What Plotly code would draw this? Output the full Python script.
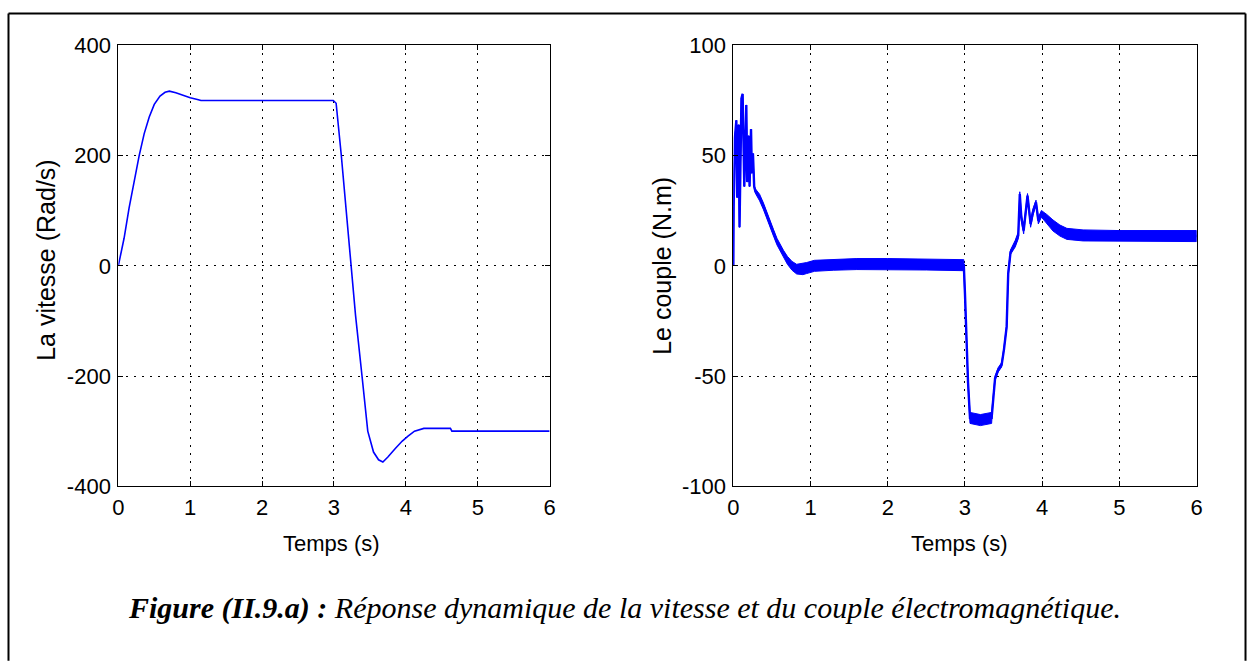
import plotly.graph_objects as go

W, H = 1253, 661
# measured mapping of the rendered page onto the returned picture:
#   x_pic = 4.5 + 0.992 * x_page ; y_pic = 10.4 + 0.967 * y_page
# layout targets are given in reference-picture pixels and converted here.
def px(x):
    return ((x - 4.5) / 0.992) / W

def py(y):
    return 1 - ((y - 10.4) / 0.967) / H

# ---------------- data ----------------
speed_t = [0, 0.08, 0.15, 0.22, 0.29, 0.36, 0.43, 0.5, 0.58, 0.65, 0.71, 0.8, 0.9, 1.0, 1.1, 1.15,
           2.99, 3.03, 3.1, 3.2, 3.3, 3.39, 3.47, 3.55, 3.62, 3.68, 3.75, 3.85, 3.95, 4.03, 4.12,
           4.25, 4.62, 4.64, 6.0]
speed_v = [0, 50, 105, 155, 200, 240, 270, 293, 308, 315, 317, 314, 309, 305, 302, 300,
           300, 295, 203, 50, -90, -200, -300, -338, -352, -356, -347, -332, -318, -309, -300,
           -295, -295, -300, -300]

torque_t = [0, 0.004, 0.02, 0.039, 0.05, 0.069, 0.08, 0.09, 0.105, 0.12, 0.142, 0.168, 0.18,
            0.198, 0.21, 0.229, 0.24, 0.254, 0.27, 0.284, 0.306, 0.34, 0.39, 0.43, 0.478,
            0.52, 0.565, 0.61, 0.65, 0.7, 0.76, 0.82, 0.9, 0.95, 1.05, 1.3, 1.6, 2.0, 2.5,
            2.985, 3.0, 3.02, 3.04, 3.065, 3.2, 3.345, 3.366, 3.39, 3.43, 3.475, 3.505,
            3.54, 3.56, 3.59, 3.65, 3.69, 3.71, 3.73, 3.76, 3.81, 3.85, 3.88, 3.92, 3.95,
            3.99, 4.06, 4.14, 4.23, 4.32, 4.53, 5.0, 5.5, 6.0]
torque_v = [0, 27, 58, 66, 31, 64, 17.5, 50, 76, 78, 36, 73, 38, 59, 36, 62, 42, 51, 36,
            34, 33, 31, 27, 23, 19, 15, 11, 8, 5.5, 2.5, 0, -1.5, -1.5, -1, 0, 0.5, 0.8,
            0.8, 0.6, 0.3, -12.6, -36.7, -53.2, -69, -70, -69, -59.2, -51, -47.2,
            -44.9, -38, -27.6, -3.5, 6.2, 10, 13.8, 32.6, 22, 16, 31.8, 19, 24.3, 28.8,
            20.5, 23.6, 21.3, 18.3, 16, 14.5, 13.8, 13.5, 13.5, 13.5]
torque_r = [0, 0, 0, 0, 0, 0, 0, 0, 0, 0, 0, 0, 0, 0, 0, 0, 0, 0, 0.5, 1, 1.2, 1.5, 1.5,
            1.5, 1.5, 1.5, 1.5, 1.5, 1.5, 1.8, 2, 2.2, 2.5, 2.5, 2.5, 2.5, 2.5, 2.5, 2.5,
            2.5, 1, 1, 1, 2.5, 2.5, 2.5, 1, 1, 1, 1, 1, 1, 1, 1, 1.5, 1.5, 1, 1.5, 1.5, 1,
            1.5, 1.5, 1, 1.5, 1.5, 2, 2.5, 2.5, 2.5, 2.5, 2.5, 2.5, 2.5]

x_ticks = [0, 1, 2, 3, 4, 5, 6]
x_ticktext = ["0", "1", "2", "3", "4", "5", "6"]
speed_yticks = [-400, -200, 0, 200, 400]
speed_yticktext = ["-400", "-200", "0", "200", "400"]
torque_yticks = [-100, -50, 0, 50, 100]
torque_yticktext = ["-100", "-50", "0", "50", "100"]

caption_bold = "Figure (II.9.a) :"
caption_rest = " Réponse dynamique de la vitesse et du couple électromagnétique."
speed_ylabel = "La vitesse (Rad/s)"
torque_ylabel = "Le couple (N.m)"
xlabel = "Temps (s)"

BLUE = "#0000FF"

fig = go.Figure()

fig.add_trace(go.Scatter(x=speed_t, y=speed_v, mode="lines",
                         line=dict(color=BLUE, width=1.6), xaxis="x", yaxis="y",
                         showlegend=False, hoverinfo="skip"))

# ripple band for torque
band_x = torque_t + torque_t[::-1]
band_y = [v + r for v, r in zip(torque_v, torque_r)] + \
         [v - r for v, r in zip(torque_v[::-1], torque_r[::-1])]
fig.add_trace(go.Scatter(x=band_x, y=band_y, mode="lines", fill="toself",
                         fillcolor=BLUE, line=dict(color=BLUE, width=1),
                         xaxis="x2", yaxis="y2", showlegend=False, hoverinfo="skip"))
fig.add_trace(go.Scatter(x=torque_t, y=torque_v, mode="lines",
                         line=dict(color=BLUE, width=2.4), xaxis="x2", yaxis="y2",
                         showlegend=False, hoverinfo="skip"))

FONT = "Liberation Sans, Arial, sans-serif"
tickfont = dict(family=FONT, size=22, color="black")

def xaxis(domain, anchor):
    return dict(domain=domain, anchor=anchor, range=[0, 6], tickvals=x_ticks,
                ticktext=x_ticktext, ticks="inside", ticklen=5, tickcolor="black",
                showline=True, linecolor="black", linewidth=1, mirror="ticks",
                showgrid=True, gridcolor="black", gridwidth=1, griddash="2px,6px",
                zeroline=False, tickfont=tickfont, fixedrange=True, ticklabelstandoff=1)

def yaxis(domain, anchor, rng, vals, text):
    return dict(domain=domain, anchor=anchor, range=rng, tickvals=vals, ticktext=text,
                ticks="inside", ticklen=5, tickcolor="black",
                showline=True, linecolor="black", linewidth=1, mirror="ticks",
                showgrid=True, gridcolor="black", gridwidth=1, griddash="2px,6px",
                zeroline=False, tickfont=tickfont, fixedrange=True, ticklabelstandoff=2)

yd = [py(487), py(44)]
fig.update_layout(
    width=W, height=H, margin=dict(l=0, r=0, t=0, b=0),
    paper_bgcolor="white", plot_bgcolor="white",
    xaxis=xaxis([px(117), px(549)], "y"),
    yaxis=yaxis(yd, "x", [-400, 400], speed_yticks, speed_yticktext),
    xaxis2=xaxis([px(733), px(1197)], "y2"),
    yaxis2=yaxis(yd, "x2", [-100, 100], torque_yticks, torque_yticktext),
)

ann_font = dict(family=FONT, size=22, color="black")
lab_font = dict(family=FONT, size=25, color="black")
fig.add_annotation(text=xlabel, x=px(331), y=py(545), xref="paper", yref="paper",
                   showarrow=False, font=ann_font, xanchor="center", yanchor="middle")
fig.add_annotation(text=xlabel, x=px(960), y=py(545), xref="paper", yref="paper",
                   showarrow=False, font=ann_font, xanchor="center", yanchor="middle")
fig.add_annotation(text=speed_ylabel, x=px(45), y=py(260), xref="paper", yref="paper",
                   showarrow=False, font=lab_font, textangle=-90,
                   xanchor="center", yanchor="middle")
fig.add_annotation(text=torque_ylabel, x=px(662), y=py(265), xref="paper", yref="paper",
                   showarrow=False, font=lab_font, textangle=-90,
                   xanchor="center", yanchor="middle")
fig.add_annotation(text="<b><i>" + caption_bold + "</i></b><i>" + caption_rest + "</i>",
                   x=px(624), y=py(609), xref="paper", yref="paper", showarrow=False,
                   font=dict(family="Liberation Serif, Times New Roman, serif", size=30,
                             color="black"),
                   xanchor="center", yanchor="middle")

# outer frame (open at bottom)
bx0, bx1, by0 = px(7), min(px(1247), 1 - 1.5 / W), py(12)
for (x0, y0, x1, y1) in [(bx0, -0.02, bx0, by0), (bx0, by0, bx1, by0), (bx1, by0, bx1, -0.02)]:
    fig.add_shape(type="line", xref="paper", yref="paper", x0=x0, y0=y0, x1=x1, y1=y1,
                  line=dict(color="black", width=2))

fig.write_html("out.html")
